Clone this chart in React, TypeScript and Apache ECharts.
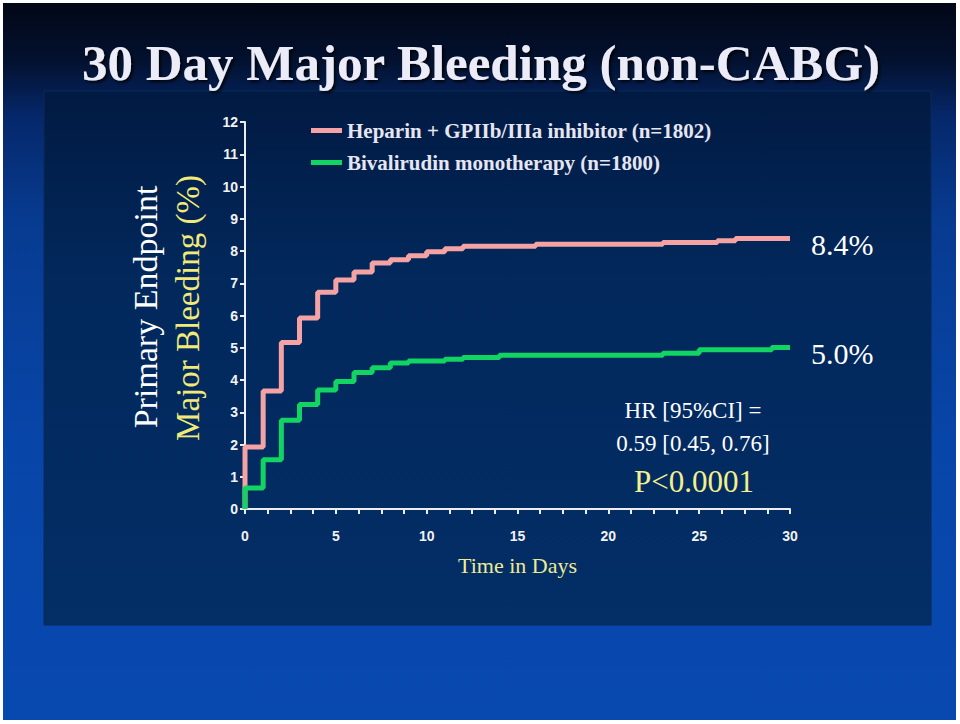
import React, { useEffect, useRef } from 'react';
import * as echarts from 'echarts';

// ---- Data ----
const heparinDays = [0, 0, 1, 2, 3, 4, 5, 6, 7, 8, 9, 10, 11, 12, 16, 23, 26, 27, 30];
const heparinPct = [0, 1.92, 3.66, 5.16, 5.92, 6.72, 7.1, 7.35, 7.63, 7.73, 7.85, 7.98, 8.07, 8.15, 8.21, 8.26, 8.32, 8.39, 8.39];

const bivalDays = [0, 0, 1, 2, 3, 4, 5, 6, 7, 8, 9, 11, 12, 14, 23, 25, 29, 30];
const bivalPct = [0, 0.65, 1.53, 2.75, 3.24, 3.69, 3.95, 4.23, 4.38, 4.53, 4.59, 4.64, 4.7, 4.77, 4.83, 4.94, 5.01, 5.01];

const seriesNames = ['Heparin + GPIIb/IIIa inhibitor (n=1802)', 'Bivalirudin monotherapy (n=1800)'];
const titleText = '30 Day Major Bleeding (non-CABG)';
const yTitleLines = ['Primary Endpoint', 'Major Bleeding (%)'];
const xTitle = 'Time in Days';
const statLines = ['HR [95%CI] =', '0.59 [0.45, 0.76]', 'P<0.0001'];

const SERIF = '"Liberation Serif", "Times New Roman", serif';
const SANS = '"Liberation Sans", Arial, sans-serif';

export default function App() {
  const ref = useRef<HTMLDivElement>(null);

  useEffect(() => {
    if (!ref.current) return;
    const chart = echarts.init(ref.current, null, { renderer: 'svg' });
    const pairs = (d: number[], v: number[]) => d.map((x, i) => [x, v[i]]);

    const endLabel = {
      show: true,
      formatter: (p: any) => p.value[1].toFixed(1) + '%',
      color: '#FFFFFF',
      fontFamily: SERIF,
      fontSize: 30,
      distance: 21,
      offset: [0, 6],
    };

    const option: any = {
      animation: false,
      backgroundColor: '#FFFFFF',
      graphic: [
        {
          type: 'rect',
          z: -20,
          silent: true,
          shape: { x: 3, y: 3, width: 953, height: 717 },
          style: {
            fill: new echarts.graphic.LinearGradient(0, 0, 0, 1, [
              { offset: 0, color: '#020716' },
              { offset: 0.08, color: '#03112f' },
              { offset: 0.16, color: '#05286b' },
              { offset: 0.3, color: '#073b90' },
              { offset: 0.6, color: '#0845a8' },
              { offset: 1, color: '#0849b0' },
            ]),
          },
        },
        {
          type: 'rect',
          z: -10,
          silent: true,
          shape: { x: 44, y: 91, width: 887, height: 534 },
          style: {
            fill: new echarts.graphic.LinearGradient(0, 0, 0, 1, [
              { offset: 0, color: '#011a42' },
              { offset: 0.35, color: '#02285c' },
              { offset: 1, color: '#032e66' },
            ]),
            stroke: '#0b2a58',
            lineWidth: 1,
          },
        },
        {
          type: 'text',
          z: 50,
          x: 481,
          y: 63,
          style: {
            text: titleText,
            font: `bold 51px ${SERIF}`,
            fill: '#ECECF8',
            align: 'center',
            verticalAlign: 'middle',
            textShadowColor: 'rgba(0,0,0,0.85)',
            textShadowBlur: 3,
            textShadowOffsetX: 2,
            textShadowOffsetY: 2,
          },
        },
        {
          type: 'text',
          z: 50,
          x: 145,
          y: 307,
          rotation: Math.PI / 2,
          style: {
            text: yTitleLines[0],
            font: `34px ${SERIF}`,
            fill: '#FFFFFF',
            align: 'center',
            verticalAlign: 'middle',
          },
        },
        {
          type: 'text',
          z: 50,
          x: 188,
          y: 308,
          rotation: Math.PI / 2,
          style: {
            text: yTitleLines[1],
            font: `33px ${SERIF}`,
            fill: '#F1E978',
            align: 'center',
            verticalAlign: 'middle',
          },
        },
        {
          type: 'text',
          z: 50,
          x: 693,
          y: 410,
          style: {
            text: statLines[0],
            font: `23px ${SERIF}`,
            fill: '#FFFFFF',
            align: 'center',
            verticalAlign: 'middle',
          },
        },
        {
          type: 'text',
          z: 50,
          x: 693,
          y: 443,
          style: {
            text: statLines[1],
            font: `23px ${SERIF}`,
            fill: '#FFFFFF',
            align: 'center',
            verticalAlign: 'middle',
          },
        },
        {
          type: 'text',
          z: 50,
          x: 694,
          y: 481,
          style: {
            text: statLines[2],
            font: `31px ${SERIF}`,
            fill: '#F4F08E',
            align: 'center',
            verticalAlign: 'middle',
          },
        },
      ],
      legend: {
        show: true,
        orient: 'vertical',
        left: 306,
        top: 115,
        icon: 'rect',
        itemWidth: 31,
        itemHeight: 5,
        itemGap: 11,
        selectedMode: false,
        data: seriesNames,
        textStyle: {
          color: '#E6E6F2',
          fontFamily: SERIF,
          fontWeight: 'bold',
          fontSize: 21,
          lineHeight: 21,
        },
      },
      grid: { left: 245, right: 170, top: 122, bottom: 215, containLabel: false },
      xAxis: {
        type: 'value',
        min: 0,
        max: 30,
        interval: 5,
        name: xTitle,
        nameLocation: 'middle',
        nameGap: 45,
        nameTextStyle: { color: '#EEEA94', fontFamily: SERIF, fontSize: 22 },
        axisLine: { show: true, lineStyle: { color: '#EDEDED', width: 2 } },
        axisTick: { show: true, length: 5, lineStyle: { color: '#EDEDED', width: 2 } },
        minorTick: { show: true, splitNumber: 4, length: 5, lineStyle: { color: '#EDEDED', width: 2 } },
        splitLine: { show: false },
        axisLabel: { color: '#F2F2F2', fontFamily: SANS, fontWeight: 'bold', fontSize: 14, margin: 20 },
      },
      yAxis: {
        type: 'value',
        min: 0,
        max: 12,
        interval: 1,
        axisLine: { show: true, lineStyle: { color: '#EDEDED', width: 2 } },
        axisTick: { show: true, length: 5, lineStyle: { color: '#EDEDED', width: 2 } },
        splitLine: { show: false },
        axisLabel: { color: '#F2F2F2', fontFamily: SANS, fontWeight: 'bold', fontSize: 14, margin: 7 },
      },
      series: [
        {
          name: seriesNames[0],
          type: 'line',
          step: 'end',
          showSymbol: false,
          color: '#F4A2A4',
          lineStyle: { width: 5, color: '#F4A2A4' },
          data: pairs(heparinDays, heparinPct),
          endLabel,
          z: 3,
        },
        {
          name: seriesNames[1],
          type: 'line',
          step: 'end',
          showSymbol: false,
          color: '#12D463',
          lineStyle: { width: 5, color: '#12D463' },
          data: pairs(bivalDays, bivalPct),
          endLabel,
          z: 4,
        },
      ],
    };

    chart.setOption(option);
    return () => chart.dispose();
  }, []);

  return <div ref={ref} style={{ position: 'fixed', left: 0, top: 0, width: 960, height: 724 }} />;
}
